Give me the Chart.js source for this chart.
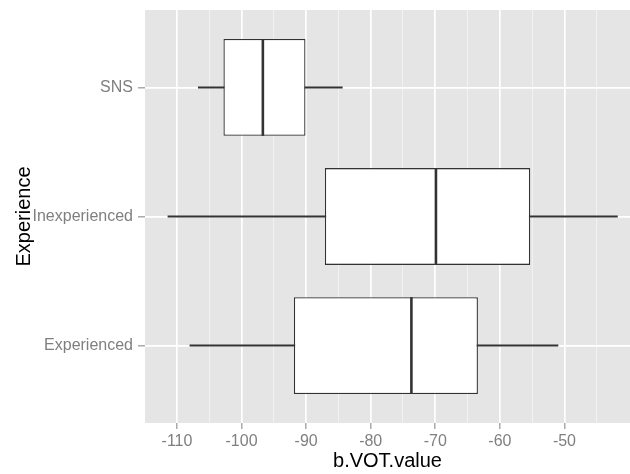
<!DOCTYPE html>
<html>
<head>
<meta charset="utf-8">
<script src="https://cdn.jsdelivr.net/npm/chart.js@4"></script>
<style>
  html, body { margin: 0; padding: 0; background: #ffffff; }
  canvas { display: block; }
</style>
</head>
<body>
<canvas id="c" width="630" height="474"></canvas>
<script>
// ---- data ----
const categories   = ['SNS', 'Inexperienced', 'Experienced'];
const whiskerLow   = [-106.7, -111.4, -108.0];
const q1           = [-102.8,  -87.1,  -91.9];
const median       = [ -96.7,  -69.9,  -73.7];
const q3           = [ -90.1,  -55.3,  -63.4];
const whiskerHigh  = [ -84.4,  -41.8,  -51.0];
const xTickLabels  = [-110, -100, -90, -80, -70, -60, -50];

// category i sits at y = n - i (first category on top)
const n = categories.length;
const yPos = categories.map((_, i) => n - i);

const boxData = categories.map((_, i) => ({ y: yPos[i], x: [q1[i], q3[i]] }));
const whiskerData = categories.map((_, i) => ({ y: yPos[i], x: [whiskerLow[i], whiskerHigh[i]] }));

const FONT = "'Liberation Sans', Arial, sans-serif";
const GREY = '#7F7F7F';

const medianPlugin = {
  id: 'medianLines',
  afterDatasetsDraw(chart) {
    const meta = chart.getDatasetMeta(0);
    const xs = chart.scales.x;
    const ctx = chart.ctx;
    ctx.save();
    ctx.strokeStyle = '#333333';
    ctx.lineWidth = 2.6;
    meta.data.forEach((el, i) => {
      const px = xs.getPixelForValue(median[i]);
      const h = el.height;
      ctx.beginPath();
      ctx.moveTo(px, el.y - h / 2);
      ctx.lineTo(px, el.y + h / 2);
      ctx.stroke();
    });
    ctx.restore();
  }
};

const panelBg = {
  id: 'panelBg',
  beforeDraw(chart) {
    const a = chart.chartArea;
    const ctx = chart.ctx;
    ctx.save();
    ctx.fillStyle = '#E5E5E5';
    ctx.fillRect(a.left, a.top, a.right - a.left, a.bottom - a.top);
    ctx.restore();
  }
};

new Chart(document.getElementById('c'), {
  type: 'bar',
  data: {
    datasets: [
      {
        label: 'box',
        data: boxData,
        backgroundColor: '#FFFFFF',
        borderColor: '#333333',
        borderWidth: 1.3,
        borderSkipped: false,
        grouped: false,
        categoryPercentage: 1,
        barPercentage: 0.75
      },
      {
        label: 'whisker',
        data: whiskerData,
        backgroundColor: '#333333',
        borderWidth: 0,
        grouped: false,
        barThickness: 1.3
      }
    ]
  },
  options: {
    indexAxis: 'y',
    responsive: false,
    animation: false,
    layout: { padding: { top: 10, right: 0, left: 0, bottom: 0 } },
    plugins: { legend: { display: false }, tooltip: { enabled: false } },
    scales: {
      x: {
        type: 'linear',
        position: 'bottom',
        min: -114.95,
        max: -39.85,
        afterBuildTicks(scale) {
          const t = [];
          xTickLabels.forEach(v => { t.push({ value: v }); t.push({ value: v + 5 }); });
          scale.ticks = t;
        },
        afterFit(scale) {
          scale.height = 51;
          scale.paddingLeft = 0;
          scale.paddingRight = 0;
        },
        border: { display: false },
        grid: {
          color: (c) => (c.tick && c.tick.value % 10 === 0) ? '#FFFFFF' : '#F2F2F2',
          lineWidth: (c) => (c.tick && c.tick.value % 10 === 0) ? 1.7 : 1,
          tickColor: (c) => (c.tick && c.tick.value % 10 === 0) ? GREY : 'rgba(0,0,0,0)',
          tickLength: 6,
          tickWidth: 1
        },
        ticks: {
          autoSkip: false,
          maxRotation: 0,
          padding: 3,
          color: GREY,
          font: { family: FONT, size: 16 },
          callback: (v) => (v % 10 === 0) ? String(v) : ''
        },
        title: {
          display: true,
          text: 'b.VOT.value',
          color: '#000000',
          font: { family: FONT, size: 20 },
          padding: { top: 0, bottom: 1 }
        }
      },
      y: {
        type: 'linear',
        position: 'left',
        offset: false,
        min: 0.4,
        max: n + 0.6,
        afterBuildTicks(scale) {
          scale.ticks = yPos.map(v => ({ value: v }));
        },
        afterFit(scale) {
          scale.width = 145;
          scale.paddingTop = 0;
          scale.paddingBottom = 0;
        },
        border: { display: false },
        grid: {
          offset: false,
          color: '#FFFFFF',
          lineWidth: 1.7,
          tickColor: GREY,
          tickLength: 7,
          tickWidth: 1
        },
        ticks: {
          autoSkip: false,
          padding: 5,
          color: GREY,
          font: { family: FONT, size: 16 },
          callback: (v) => categories[n - v]
        },
        title: {
          display: true,
          text: 'Experience',
          color: '#000000',
          font: { family: FONT, size: 20 },
          padding: { top: 12, bottom: 0 }
        }
      }
    }
  },
  plugins: [panelBg, medianPlugin]
});
</script>
</body>
</html>
